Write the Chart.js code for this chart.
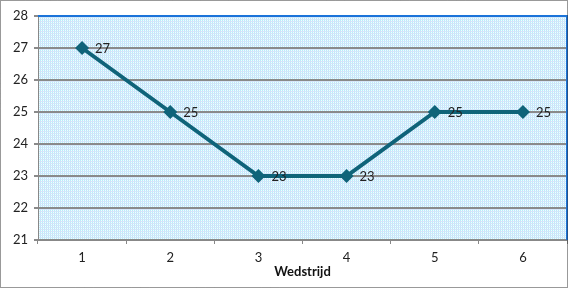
<!DOCTYPE html>
<html>
<head>
<meta charset="utf-8">
<script src="https://cdn.jsdelivr.net/npm/chart.js@4/dist/chart.umd.min.js"></script>
<style>
  html, body { margin: 0; padding: 0; background: #fff; }
  #wrap { width: 568px; height: 288px; position: relative; }
</style>
</head>
<body>
<div id="wrap"><canvas id="canvas" width="568" height="288"></canvas></div>
<script>
// Gegevens
const wedstrijden = ['1', '2', '3', '4', '5', '6'];
const waarden = [27, 25, 23, 23, 25, 25];
const yMin = 21;
const yMax = 28;

// Achtergrond van het plotgebied (dither-patroon) en rand rond de afbeelding
function maakPatroon(ctx) {
    const p = document.createElement('canvas');
    p.width = 2; p.height = 2;
    const c = p.getContext('2d');
    c.fillStyle = '#b4f2fa'; c.fillRect(0, 0, 1, 1);
    c.fillStyle = '#f6f6ff'; c.fillRect(1, 0, 1, 1);
    c.fillStyle = '#e0d8fa'; c.fillRect(0, 1, 1, 1);
    c.fillStyle = '#c8f4fa'; c.fillRect(1, 1, 1, 1);
    return ctx.createPattern(p, 'repeat');
}

const achtergrond = {
    id: 'achtergrond',
    beforeDraw(chart) {
        const { ctx, chartArea: a } = chart;
        ctx.save();
        ctx.fillStyle = maakPatroon(ctx);
        ctx.fillRect(a.left, a.top, a.right - a.left, a.bottom - a.top);
        ctx.restore();
    },
    afterDraw(chart) {
        const { ctx, chartArea: a } = chart;
        ctx.save();
        // blauwe rand boven en rechts
        ctx.strokeStyle = '#1a73d9';
        ctx.lineWidth = 2;
        ctx.beginPath();
        ctx.moveTo(a.left, a.top);
        ctx.lineTo(a.right, a.top);
        ctx.lineTo(a.right, a.bottom);
        ctx.stroke();
        // rand rond de hele afbeelding
        ctx.strokeStyle = '#333';
        ctx.lineWidth = 1;
        ctx.setLineDash([1, 1]);
        ctx.strokeRect(0.5, 0.5, chart.width - 1, chart.height - 1);
        ctx.restore();
    }
};

// Waardelabels rechts van de punten
const labels = {
    id: 'labels',
    afterDatasetsDraw(chart) {
        const { ctx } = chart;
        const meta = chart.getDatasetMeta(0);
        ctx.save();
        ctx.font = '13px Lato, "Noto Sans", sans-serif';
        ctx.fillStyle = '#222';
        ctx.textBaseline = 'middle';
        meta.data.forEach((pt, i) => {
            ctx.fillText(String(waarden[i]), pt.x + 13, pt.y + 1);
        });
        ctx.restore();
    }
};

const ctx = document.getElementById('canvas').getContext('2d');
new Chart(ctx, {
    type: 'line',
    data: {
        labels: wedstrijden,
        datasets: [{
            data: waarden,
            borderColor: '#0f6379',
            backgroundColor: '#0f6379',
            borderWidth: 4,
            pointStyle: 'rectRot',
            pointRadius: 7,
            pointBorderWidth: 0,
            tension: 0,
            fill: false
        }]
    },
    options: {
        responsive: false,
        animation: false,
        layout: { autoPadding: false, padding: { top: 16, right: 1, left: 0, bottom: 8 } },
        plugins: {
            legend: { display: false },
            tooltip: { enabled: false }
        },
        scales: {
            x: {
                offset: true,
                grid: {
                    display: true,
                    drawOnChartArea: false,
                    offset: true,
                    color: '#888',
                    tickLength: 4
                },
                border: { color: '#888', width: 1 },
                ticks: {
                    color: '#222',
                    font: { family: 'Lato, "Noto Sans", sans-serif', size: 13 },
                    padding: 6
                },
                title: {
                    display: true,
                    text: 'Wedstrijd',
                    color: '#111',
                    font: { family: 'Lato, "Noto Sans", sans-serif', size: 13, weight: 'bold' },
                    padding: { top: 0, bottom: 0 }
                },
                afterFit(scale) {
                    scale.height = 40;
                    scale.paddingLeft = 0;
                    scale.paddingRight = 0;
                }
            },
            y: {
                min: yMin,
                max: yMax,
                ticks: {
                    stepSize: 1,
                    color: '#222',
                    font: { family: 'Lato, "Noto Sans", sans-serif', size: 13 },
                    padding: 6
                },
                grid: {
                    color: '#8a8a8a',
                    lineWidth: 2,
                    tickLength: 4
                },
                border: { color: '#888', width: 1 },
                afterFit(scale) {
                    scale.width = 38;
                    scale.paddingTop = 0;
                    scale.paddingBottom = 0;
                }
            }
        }
    },
    plugins: [achtergrond, labels]
});
</script>
</body>
</html>
